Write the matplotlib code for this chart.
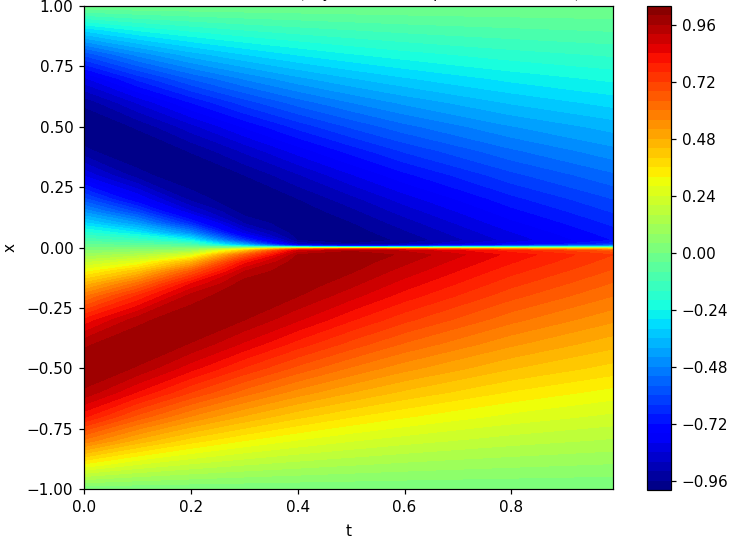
import numpy as np
import matplotlib
matplotlib.use("Agg")
import matplotlib.pyplot as plt

# u(t, x), the field is mirrored around x = 0
t_vals = [0.0, 0.1, 0.2, 0.3, 0.4, 0.5, 0.6, 0.8, 0.99]
x_pos = [0.0, 0.005, 0.012, 0.03, 0.06, 0.1, 0.15, 0.2, 0.3, 0.4, 0.5, 0.6, 0.7, 0.8, 0.9, 1.0]
u_mag = [
    [0.0, 0.0, 0.0, 0.0, 0.0, 0.0, 0.0, 0.0, 0.0],
    [0.016, 0.023, 0.041, 0.23, 0.56, 0.65, 0.62, 0.49, 0.39],
    [0.038, 0.055, 0.098, 0.41, 0.875, 0.95, 0.91, 0.775, 0.65],
    [0.094, 0.137, 0.245, 0.639, 0.962, 0.994, 0.951, 0.826, 0.72],
    [0.187, 0.27, 0.46, 0.818, 0.99, 0.985, 0.929, 0.804, 0.70],
    [0.309, 0.434, 0.667, 0.923, 1.0, 0.964, 0.901, 0.772, 0.672],
    [0.454, 0.616, 0.838, 0.984, 0.989, 0.932, 0.862, 0.733, 0.636],
    [0.588, 0.761, 0.935, 1.0, 0.962, 0.895, 0.821, 0.694, 0.601],
    [0.809, 0.945, 1.0, 0.96, 0.885, 0.804, 0.731, 0.612, 0.528],
    [0.951, 1.0, 0.957, 0.872, 0.782, 0.704, 0.634, 0.528, 0.454],
    [1.0, 0.955, 0.856, 0.755, 0.667, 0.594, 0.534, 0.443, 0.384],
    [0.951, 0.836, 0.72, 0.621, 0.542, 0.481, 0.431, 0.355, 0.304],
    [0.809, 0.667, 0.557, 0.475, 0.411, 0.363, 0.325, 0.267, 0.229],
    [0.588, 0.466, 0.379, 0.32, 0.276, 0.243, 0.217, 0.178, 0.153],
    [0.309, 0.236, 0.192, 0.161, 0.139, 0.122, 0.108, 0.089, 0.076],
    [0.0, 0.0, 0.0, 0.0, 0.0, 0.0, 0.0, 0.0, 0.0],
]
cbar_ticks = [-0.96, -0.72, -0.48, -0.24, 0.0, 0.24, 0.48, 0.72, 0.96]
# only the tips of the title show in the picture, the wording is a best guess
title_text = "Neural Network Solution (Physics Informed prediction of field u)"

t = np.array(t_vals)
x_half = np.array(x_pos)
mag = np.array(u_mag)
x = np.concatenate([-x_half[:0:-1], x_half])
u = np.vstack([mag[:0:-1], -mag])

# drawn at a higher dpi than the default, text and ticks come out larger
dpi = 110
fig = plt.figure(figsize=(744 / dpi, 544 / dpi), dpi=dpi)
ax = fig.add_axes([84 / 744, 1 - 489 / 544, 529 / 744, 483 / 544])
levels = np.linspace(-1.0, 1.04, 52)
cs = ax.contourf(t, x, u, levels=levels, cmap="jet")
ax.set_xlabel("t", labelpad=6)
ax.set_ylabel("x", labelpad=6)
ax.set_xticks([0.0, 0.2, 0.4, 0.6, 0.8])
ax.set_title(title_text, pad=5.2, fontsize=9.5)

cax = fig.add_axes([647 / 744, 1 - 490 / 544, 24 / 744, 484 / 544])
cbar = fig.colorbar(cs, cax=cax)
cbar.set_ticks(cbar_ticks)

fig.savefig("out.png", dpi=dpi)
